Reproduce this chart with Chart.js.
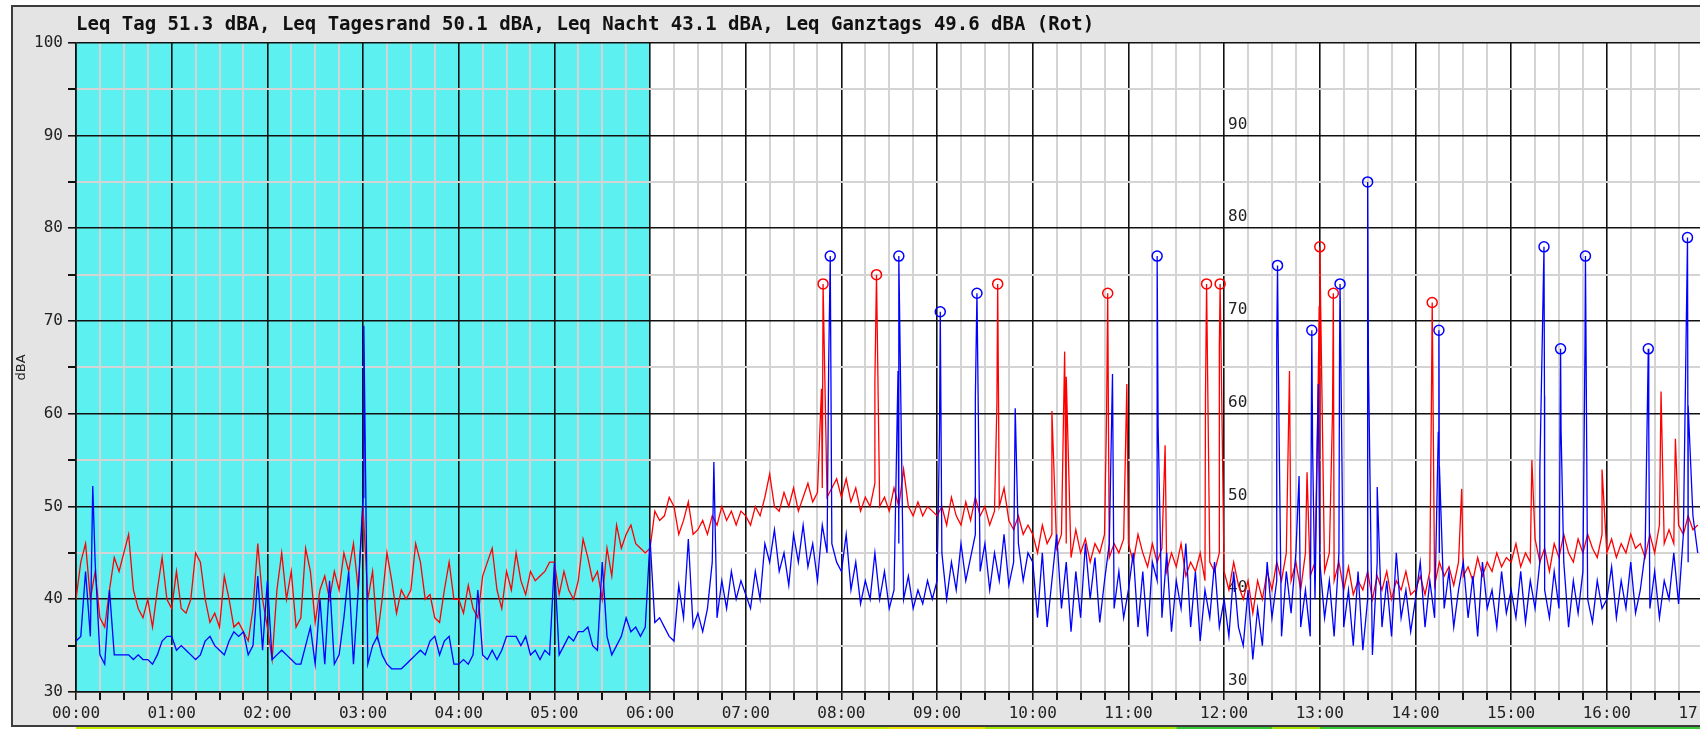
<!DOCTYPE html>
<html>
<head>
<meta charset="utf-8">
<title>Pegelverlauf</title>
<script src="https://cdn.jsdelivr.net/npm/chart.js@4.4.1/dist/chart.umd.min.js"></script>
<style>
  html, body { margin: 0; padding: 0; overflow: hidden; background: #fff; }
  canvas { display: block; }
</style>
</head>
<body>
<canvas id="pegel" width="1709" height="729"></canvas>
<script>
const titel = 'Leq Tag 51.3 dBA, Leq Tagesrand 50.1 dBA, Leq Nacht 43.1 dBA, Leq Ganztags 49.6 dBA (Rot)';

// minutes between two samples of the base curves
const schritt = 3;

// red curve, one row per hour (00:00 .. 16:57)
const rot = [
  40, 44, 46, 40, 43, 38, 37, 41, 44.5, 43, 45, 47, 41, 39, 38, 40, 37, 41, 44.5, 40,
  39, 43, 39, 38.5, 40, 45, 44, 40, 37.5, 38.5, 37, 42.5, 40, 37, 37.5, 36.5, 35.5, 39, 46, 40,
  37, 33.5, 41, 45, 40, 43, 37, 38, 45.5, 43, 37.5, 41, 42.5, 40, 43, 41, 45, 43, 46, 41,
  50, 40, 43, 36, 40, 45, 42, 38.5, 41, 40, 41, 46, 44, 40, 40.5, 38, 37.5, 41, 44, 40,
  40, 38.5, 41.5, 39, 38, 42.5, 44, 45.5, 41, 39, 43, 41, 45, 42, 40.5, 43, 42, 42.5, 43, 44,
  44, 40.5, 43, 41, 40, 42, 46.5, 44.5, 42, 43, 40, 45.5, 42.5, 48, 45.5, 47, 48, 46, 45.5, 45,
  45.5, 49.5, 48.5, 49, 51, 50, 47, 48.5, 50.5, 47, 47.5, 48.5, 47, 49, 48, 50, 48.5, 49.5, 48, 49.5,
  49, 48, 50, 49, 51, 53.5, 50, 49.5, 51.5, 50, 52, 49.5, 51, 52.5, 50.5, 51.5, 52, 51, 52, 53,
  51, 53, 50.5, 52, 49.5, 51, 50, 52.5, 50, 51, 49.5, 52, 50, 54, 50, 49, 50.5, 49, 50, 49.5,
  49, 50, 48, 51, 49, 48, 50.5, 48.5, 51, 49, 50, 48, 49.5, 50, 52, 48.5, 47.5, 49, 47, 48,
  47, 45, 48, 46, 47, 45.5, 47, 46, 44.5, 47.5, 45, 46.5, 44, 46, 45, 47, 44.5, 46, 45, 46.5,
  46, 44, 47, 45, 43.5, 46, 44, 45.5, 43, 45, 43.5, 46, 42.5, 44, 43, 45, 42, 44, 43, 45,
  43, 41, 44, 41.5, 40, 42, 38.5, 42, 40, 43, 41, 44, 42, 45, 42, 44, 41, 45, 42.5, 44,
  46, 43, 45, 42, 44, 41, 43.5, 40.5, 42, 41, 43, 40, 42.5, 41, 43, 40, 42, 41, 43, 40.5,
  41, 42.5, 40.5, 43, 41.5, 44, 42.5, 43.5, 41.5, 44, 42.5, 43.5, 42, 44.5, 42.5, 44, 43, 45, 43.5, 44.5,
  44, 46, 43.5, 45, 44, 46.5, 44, 45.5, 43, 46, 44.5, 47, 45, 44, 46.5, 45, 47, 45.5, 44.5, 47,
  45, 46.5, 44.5, 46, 45, 47, 45.5, 46, 44.5, 47, 45, 48, 46, 47.5, 46, 48, 47, 49, 47.5, 48
];

// blue curve, one row per hour
const blau = [
  35.5, 36, 43, 36, 44, 34, 33, 41, 34, 34, 34, 34, 33.5, 34, 33.5, 33.5, 33, 34, 35.5, 36,
  36, 34.5, 35, 34.5, 34, 33.5, 34, 35.5, 36, 35, 34.5, 34, 35.5, 36.5, 36, 36.5, 34, 35, 42.5, 34.5,
  42, 33.5, 34, 34.5, 34, 33.5, 33, 33, 35, 37, 33, 40, 33, 42, 33, 34, 38, 43, 33, 41,
  51, 33, 35, 36, 34, 33, 32.5, 32.5, 32.5, 33, 33.5, 34, 34.5, 34, 35.5, 36, 34, 35.5, 36, 33,
  33, 33.5, 33, 34, 41, 34, 33.5, 34.5, 33.5, 34.5, 36, 36, 36, 35, 36, 34, 34.5, 33.5, 34.5, 34,
  44, 34, 35, 36, 35.5, 36.5, 36.5, 37, 35, 34.5, 44, 36, 34, 35, 36, 38, 36.5, 37, 36, 37,
  46.5, 37.5, 38, 37, 36, 35.5, 41.5, 38, 46.5, 37, 38.5, 36.5, 39, 44, 38, 42, 39, 43, 40, 42,
  40.5, 39, 43, 40, 46, 44, 47.5, 43, 45, 41.5, 47, 44, 48, 43.5, 46, 42, 48, 45, 46, 44,
  43, 47, 41, 44, 39.5, 42, 40, 45, 40, 43, 39, 41, 46, 40, 42.5, 39, 41, 39.5, 42, 40,
  42, 45, 40, 44, 41, 46, 42, 44.5, 47, 43, 46, 41, 45, 42, 47, 41.5, 44, 46, 42, 45,
  44, 38, 45, 37, 42, 47, 39, 44, 36.5, 43, 38, 46, 40, 44.5, 37.5, 42, 46, 39, 43, 38,
  41, 45, 37, 43, 36, 44, 42, 38, 45, 36.5, 42, 39, 46, 37, 43, 35.5, 41, 38, 44, 37,
  40, 36, 43, 37, 35, 41, 33.5, 39, 35, 44, 38, 42, 36, 43, 38.5, 45, 37, 41, 36, 40,
  44, 38, 42, 36, 45, 37, 41, 35, 43, 34.5, 40, 34, 44, 37, 42, 36, 45, 38, 41, 36.5,
  40, 44, 37, 42, 38, 45, 39, 43, 37, 41, 44, 38, 42.5, 36, 44, 39, 41, 37, 43, 38.5,
  41, 38, 43, 37.5, 42, 39, 44, 41, 38, 43, 39, 44, 37, 42, 38.5, 43, 40, 37.5, 42, 39,
  40, 43.5, 38, 42, 39, 44, 38.5, 41, 45, 39, 43, 38, 42, 40, 45, 39.5, 47, 44, 49, 45
];

// short spikes between the samples (minute of day, dBA)
const rotSpitzeMin  = [467.5, 501, 577.5, 612, 620, 621, 646.3, 659, 683, 708.3, 717, 761, 772, 779, 779.6, 788, 850, 869, 913, 957, 994, 1003];
const rotSpitzeWert = [62.7, 63.6, 61, 60.3, 66.7, 64, 60, 63.2, 56.6, 61.6, 67.2, 64.6, 53.7, 63.2, 71.6, 60.4, 61.3, 51.9, 55, 54, 62.4, 57.3];
const blauSpitzeMin  = [10.5, 180.5, 400, 472, 515.5, 541.5, 564, 589, 650, 678.6, 753, 754.2, 767, 775.5, 779, 792.4, 810.5, 816, 854.3, 855, 918, 920.9, 931.3, 946.3, 986.3, 1011];
const blauSpitzeWert = [52.2, 69.5, 54.8, 65.2, 64.6, 57.8, 61.8, 60.6, 64.3, 58.7, 67.6, 61.9, 53.3, 56.2, 63.2, 67, 65.4, 52.1, 58, 54.4, 53.9, 61.9, 58.3, 67.2, 58.6, 60.9];

// marked maxima (circles)
const rotMaxMin  = [468.5, 502, 578, 647, 709, 717.5, 780, 788.5, 850.5];
const rotMaxWert = [74, 75, 74, 73, 74, 74, 78, 73, 72];
const blauMaxMin  = [473, 516, 542, 565, 678, 753.5, 775, 792.7, 810, 854.7, 920.6, 931, 946.6, 986, 1010.6];
const blauMaxWert = [77, 77, 71, 73, 77, 76, 69, 74, 85, 69, 78, 67, 77, 67, 79];

// night period (cyan), in minutes
const nacht = [0, 360];
// scale labels repeated inside the plot at 12:00
const innenSkalaMin = 720;
const innenSkala = [30, 40, 50, 60, 70, 80, 90];
// coloured strip under the frame (hours)
const streifenStunden = [0, 8.5, 9.5, 11.5, 12.5, 13, 17.2];
const streifenFarben = ['#c6ec00', '#ece400', '#a6e600', '#34c634', '#a6e600', '#34c634'];

function punkte(werte, spMin, spWert, maxMin, maxWert) {
  const p = werte.map((v, i) => ({ x: i * schritt, y: v }));
  spMin.forEach((m, i) => p.push({ x: m, y: spWert[i] }));
  maxMin.forEach((m, i) => p.push({ x: m, y: maxWert[i] }));
  return p.sort((a, b) => a.x - b.x);
}
const kreise = (mins, werte) => mins.map((m, i) => ({ x: m, y: werte[i] }));

const rahmen = {
  id: 'rahmen',
  beforeDraw(chart) {
    const { ctx, chartArea: a, scales: { x } } = chart;
    ctx.save();
    ctx.fillStyle = '#fff';
    ctx.fillRect(0, 0, chart.width, chart.height);
    ctx.fillStyle = '#e4e4e4';
    ctx.fillRect(12, 6, chart.width, 720);
    ctx.strokeStyle = '#3c3c3c';
    ctx.lineWidth = 2;
    ctx.strokeRect(12, 6, chart.width + 10, 720);
    ctx.fillStyle = '#fff';
    ctx.fillRect(a.left, a.top, a.width, a.height);
    const n0 = x.getPixelForValue(nacht[0]), n1 = x.getPixelForValue(nacht[1]);
    ctx.fillStyle = '#5cf0f0';
    ctx.fillRect(n0, a.top, n1 - n0, a.height);
    for (let i = 0; i < streifenFarben.length; i++) {
      const s0 = x.getPixelForValue(streifenStunden[i] * 60);
      const s1 = x.getPixelForValue(streifenStunden[i + 1] * 60);
      ctx.fillStyle = streifenFarben[i];
      ctx.fillRect(s0, 727, s1 - s0, 2);
    }
    ctx.restore();
  },
  beforeDatasetsDraw(chart) {
    const { ctx, scales: { x, y } } = chart;
    ctx.save();
    ctx.font = '16px "DejaVu Sans Mono"';
    ctx.fillStyle = '#222';
    ctx.textAlign = 'left';
    ctx.textBaseline = 'bottom';
    const px = x.getPixelForValue(innenSkalaMin) + 4;
    innenSkala.forEach(v => ctx.fillText(String(v), px, y.getPixelForValue(v) - 3));
    ctx.restore();
  }
};

new Chart(document.getElementById('pegel'), {
  type: 'line',
  data: {
    datasets: [
      { data: kreise(blauMaxMin, blauMaxWert), showLine: false, pointRadius: 5, pointBorderWidth: 1.5,
        pointBorderColor: '#0000ff', pointBackgroundColor: 'rgba(0,0,0,0)', order: 0 },
      { data: kreise(rotMaxMin, rotMaxWert), showLine: false, pointRadius: 5, pointBorderWidth: 1.5,
        pointBorderColor: '#ff0000', pointBackgroundColor: 'rgba(0,0,0,0)', order: 0 },
      { data: punkte(blau, blauSpitzeMin, blauSpitzeWert, blauMaxMin, blauMaxWert),
        borderColor: '#0000ff', borderWidth: 1.3, pointRadius: 0, tension: 0, order: 1 },
      { data: punkte(rot, rotSpitzeMin, rotSpitzeWert, rotMaxMin, rotMaxWert),
        borderColor: '#ff0000', borderWidth: 1.3, pointRadius: 0, tension: 0, order: 2 }
    ]
  },
  options: {
    responsive: false,
    animation: false,
    events: [],
    layout: { padding: { top: 6, left: 12, right: 0, bottom: 3 } },
    plugins: {
      legend: { display: false },
      tooltip: { enabled: false },
      title: {
        display: true, text: titel, align: 'start', fullSize: false, color: '#111',
        font: { family: '"DejaVu Sans Mono"', size: 19, weight: 'bold' },
        padding: { top: 8, bottom: 6 }
      }
    },
    scales: {
      x: {
        type: 'linear', min: 0, max: 1020,
        afterFit: s => { s.height = 34; s.paddingLeft = 0; s.paddingRight = 0; },
        ticks: {
          stepSize: 15, autoSkip: false, maxRotation: 0, padding: 4, color: '#222',
          font: { family: '"DejaVu Sans Mono"', size: 16 },
          callback: v => v % 60 === 0 ? String(v / 60).padStart(2, '0') + ':00' : ''
        },
        grid: {
          color: c => c.tick && c.tick.value % 60 === 0 ? '#111' : '#d4d4d4',
          lineWidth: c => c.tick && c.tick.value % 60 === 0 ? 1.6 : 2,
          tickColor: '#111', tickLength: 8
        },
        border: { color: '#111', width: 1.6 }
      },
      y: {
        min: 30, max: 100,
        afterFit: s => { s.width = 64; s.paddingTop = 0; s.paddingBottom = 0; },
        title: { display: true, text: 'dBA', color: '#222', font: { family: '"DejaVu Sans"', size: 13 }, padding: { top: 2, bottom: 0 } },
        ticks: {
          stepSize: 5, padding: 5, color: '#222',
          font: { family: '"DejaVu Sans Mono"', size: 16 },
          callback: v => v % 10 === 0 ? String(v) : ''
        },
        grid: {
          color: c => c.tick && c.tick.value % 10 === 0 ? '#111' : '#d4d4d4',
          lineWidth: c => c.tick && c.tick.value % 10 === 0 ? 1.6 : 2,
          tickColor: '#111', tickLength: 8
        },
        border: { color: '#111', width: 1.6 }
      }
    }
  },
  plugins: [rahmen]
});
</script>
</body>
</html>
